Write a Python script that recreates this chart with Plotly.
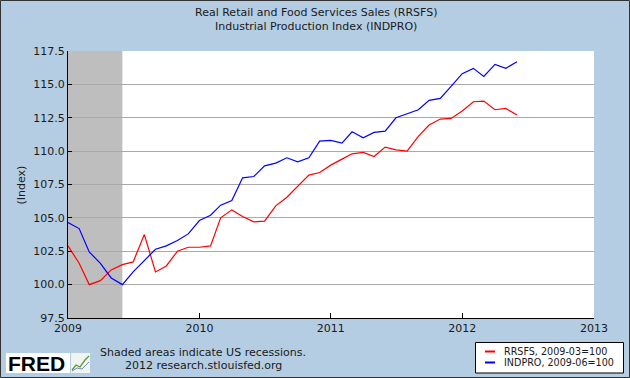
import plotly.graph_objects as go
import pandas as pd

dates = pd.date_range("2009-01-01", "2012-06-01", freq="MS")

rrsfs = [102.9, 101.6, 100.0, 100.3, 101.1, 101.5, 101.7, 103.75, 100.95, 101.4, 102.5, 102.8,
         102.8, 102.9, 105.0, 105.6, 105.1, 104.7, 104.75, 105.9, 106.55, 107.4, 108.2, 108.4,
         108.95, 109.4, 109.8, 109.9, 109.6, 110.3, 110.1, 110.0, 111.1, 111.95, 112.4, 112.45,
         113.0, 113.7, 113.75, 113.1, 113.2, 112.7]
indpro = [104.65, 104.2, 102.45, 101.6, 100.5, 100.0, 100.95, 101.8, 102.65, 102.9, 103.3, 103.8,
          104.8, 105.2, 105.95, 106.3, 108.0, 108.1, 108.9, 109.1, 109.5, 109.2, 109.5, 110.75,
          110.8, 110.6, 111.45, 111.0, 111.4, 111.5, 112.5, 112.8, 113.1, 113.8, 113.95, 114.85,
          115.8, 116.2, 115.6, 116.5, 116.2, 116.7]

series_names = ["RRSFS, 2009-03=100", "INDPRO, 2009-06=100"]
series_colors = ["#FF0000", "#0000FF"]
recession = ("2009-01-01", "2009-06-01")
title_lines = ["Real Retail and Food Services Sales (RRSFS)", "Industrial Production Index (INDPRO)"]
y_ticks = [97.5, 100.0, 102.5, 105.0, 107.5, 110.0, 112.5, 115.0, 117.5]
x_ticks = ["2009-01-01", "2010-01-01", "2011-01-01", "2012-01-01", "2013-01-01"]
x_labels = ["2009", "2010", "2011", "2012", "2013"]

W, H = 630, 378
L, R, T, B = 68, 36, 51, 60
PW, PH = W - L - R, H - T - B
BG = "#B4CDE3"
FONT = "DejaVu Sans"
TXT = "#1a1a1a"


def px(p):
    return (p - L) / PW


def py(p):
    return 1 - (p - T) / PH


fig = go.Figure()
for vals, name, col in zip([rrsfs, indpro], series_names, series_colors):
    fig.add_trace(go.Scatter(x=dates, y=vals, mode="lines", name=name,
                             line=dict(color=col, width=1.2), showlegend=False))

fig.add_shape(type="rect", xref="x", yref="paper", x0=recession[0], x1=recession[1],
              y0=0, y1=1, fillcolor="#BEBEBE", line_width=0, layer="between")

# outer border
fig.add_shape(type="rect", xref="paper", yref="paper", x0=px(0.5), x1=px(W - 0.5),
              y0=py(H - 0.5), y1=py(0.5), line=dict(color="#333333", width=1),
              fillcolor="rgba(0,0,0,0)", layer="above")

ann = []
ann.append(dict(text=title_lines[0], x=px(316), y=py(12)))
ann.append(dict(text=title_lines[1], x=px(316), y=py(26)))
ann.append(dict(text="Shaded areas indicate US recessions.", x=px(203), y=py(352)))
ann.append(dict(text="2012 research.stlouisfed.org", x=px(203), y=py(365)))
for a in ann:
    fig.add_annotation(xref="paper", yref="paper", showarrow=False, xanchor="center",
                       yanchor="middle", font=dict(family=FONT, size=11, color=TXT), **a)

fig.add_annotation(xref="paper", yref="paper", x=px(12), y=py(185), text="(Index)",
                   textangle=-90, showarrow=False, font=dict(family=FONT, size=11, color=TXT))

# legend box (manual)
fig.add_shape(type="rect", xref="paper", yref="paper", x0=px(475.5), x1=px(623.5), y0=py(373), y1=py(342.5),
              fillcolor="white", line=dict(color="black", width=1), layer="above")
for i, (name, col) in enumerate(zip(series_names, series_colors)):
    yy = 351.5 + i * 11
    fig.add_shape(type="line", xref="paper", yref="paper", x0=px(485), x1=px(495), y0=py(yy), y1=py(yy),
                  line=dict(color=col, width=2), layer="above")
    fig.add_annotation(xref="paper", yref="paper", x=px(502), y=py(yy), xanchor="left", yanchor="middle",
                       text=name, showarrow=False, font=dict(family=FONT, size=9.6, color=TXT))

# FRED logo
fig.add_shape(type="rect", xref="paper", yref="paper", x0=px(6), x1=px(70), y0=py(373), y1=py(353),
              fillcolor="white", line_width=0, layer="above")
fig.add_annotation(xref="paper", yref="paper", x=px(6), y=py(363.5), xanchor="left", yanchor="middle",
                   text="<b>FRED</b>", showarrow=False,
                   font=dict(family="Liberation Sans", size=21, color="#000000"))
fig.add_shape(type="rect", xref="paper", yref="paper", x0=px(71), x1=px(90), y0=py(373), y1=py(353),
              fillcolor="#F2F4F0", line_width=0, layer="above")
fig.add_shape(type="path", xref="paper", yref="paper",
              path=f"M {px(72)},{py(370)} L {px(76)},{py(365)} L {px(80)},{py(367)} L {px(85)},{py(360)} L {px(89)},{py(356)}",
              line=dict(color="#5A9A3A", width=1.3), layer="above")
fig.add_shape(type="path", xref="paper", yref="paper",
              path=f"M {px(72)},{py(371)} L {px(77)},{py(368)} L {px(82)},{py(369)} L {px(89)},{py(362)}",
              line=dict(color="#6A8FC0", width=1), layer="above")

fig.update_layout(
    width=W, height=H,
    margin=dict(l=L, r=R, t=T, b=B),
    paper_bgcolor=BG, plot_bgcolor="white",
    font=dict(family=FONT, size=11, color=TXT),
    showlegend=False,
    xaxis=dict(type="date", range=["2009-01-01", "2013-01-01"], tickvals=pd.to_datetime(x_ticks),
               ticktext=x_labels, automargin=False,
               showgrid=False, showline=True, linecolor="black", linewidth=1,
               ticks="inside", ticklen=5, tickcolor="black", zeroline=False),
    yaxis=dict(range=[97.5, 117.5], tickvals=y_ticks, ticktext=[f"{v:.1f}" for v in y_ticks],
               automargin=False,
               showgrid=True, gridcolor="#A9A9A9", gridwidth=1,
               showline=True, linecolor="black", linewidth=1, ticks="inside", ticklen=4,
               tickcolor="black", zeroline=False),
)

fig.write_html("out.html", config={"displayModeBar": False},
               post_script="document.body.style.margin='0';document.body.style.overflow='hidden';")
